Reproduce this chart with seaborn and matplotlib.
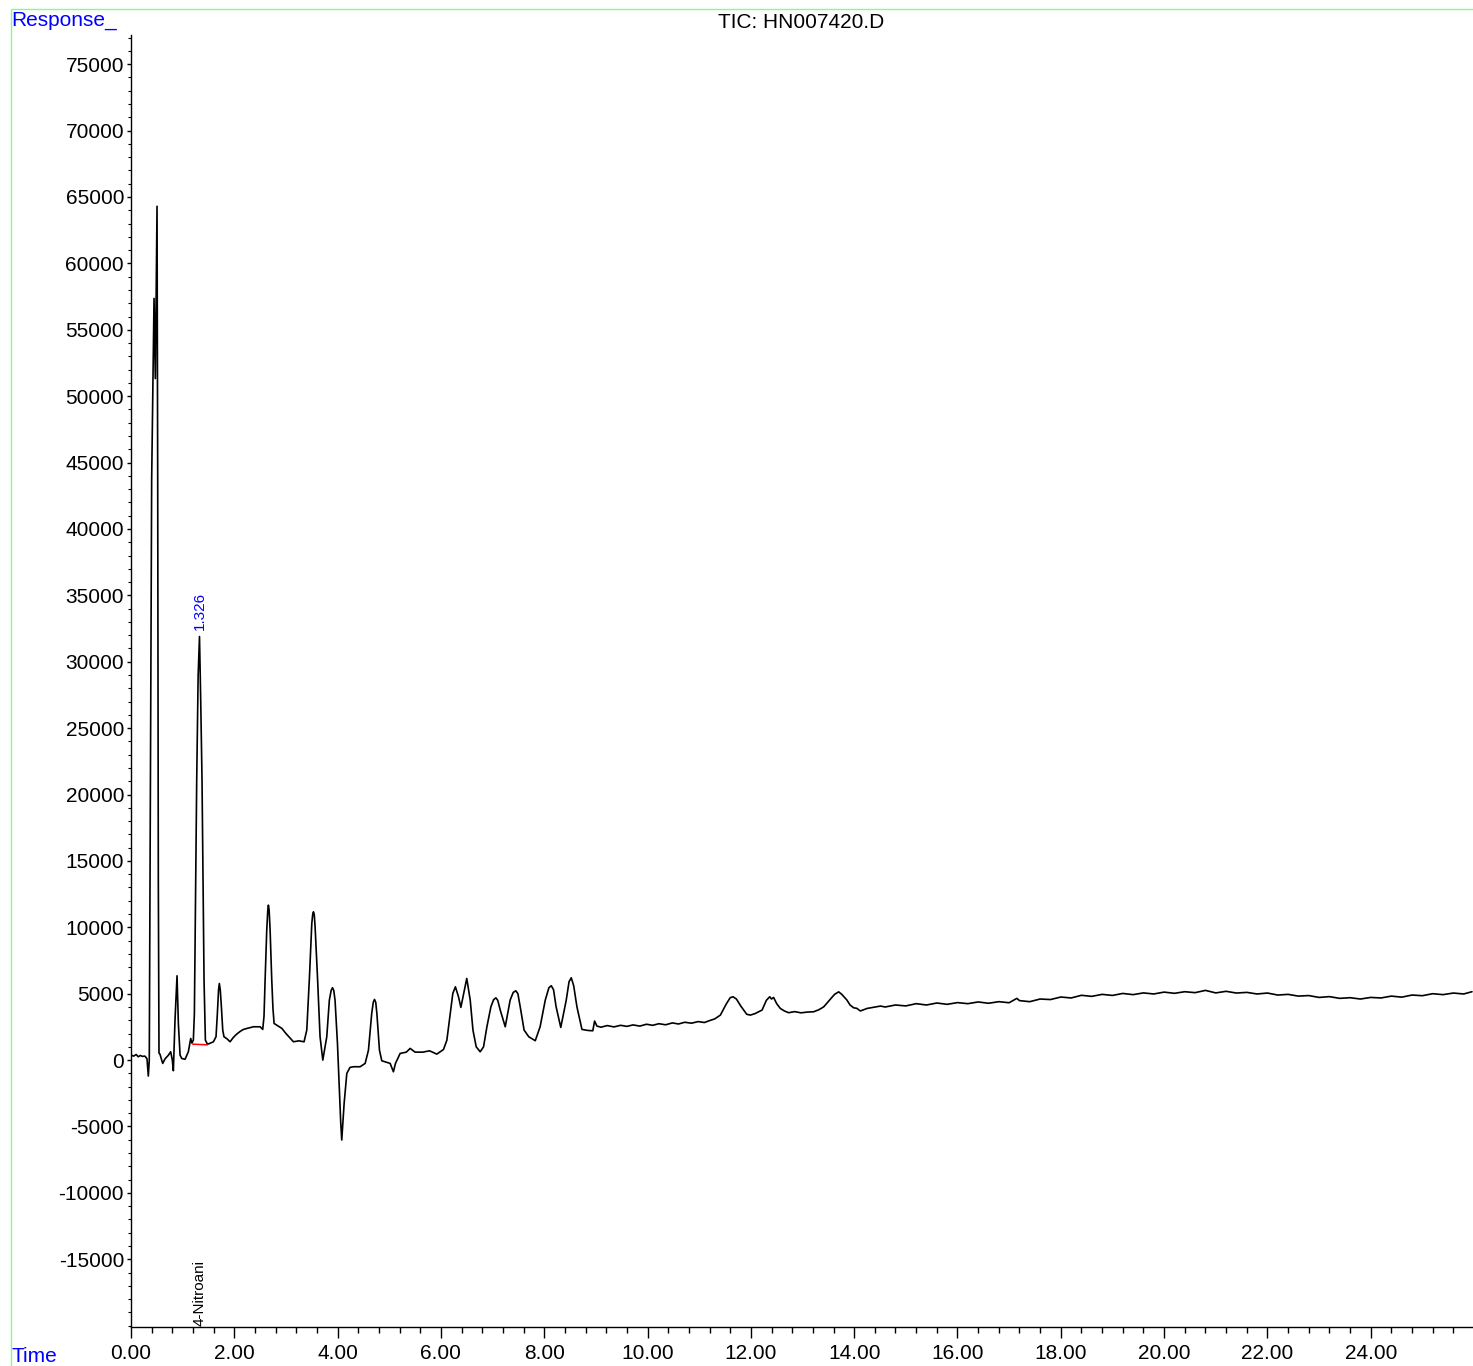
import numpy as np
import pandas as pd
import matplotlib
matplotlib.use("Agg")
import matplotlib.pyplot as plt
from matplotlib.ticker import MultipleLocator, FormatStrFormatter
from matplotlib.patches import Rectangle
import seaborn as sns

# retention time (min) and response
time_early = [0.00, 0.05, 0.10, 0.14, 0.18, 0.22, 0.27, 0.31, 0.335, 0.354, 0.40, 0.446,
              0.471, 0.504, 0.517, 0.529, 0.542, 0.56, 0.614, 0.66, 0.72, 0.768, 0.80,
              0.82, 0.852, 0.891, 0.917, 0.95, 0.982, 1.046, 1.11, 1.156, 1.18, 1.207,
              1.227, 1.246, 1.272, 1.30, 1.326, 1.35, 1.375, 1.395, 1.414, 1.44, 1.48,
              1.52, 1.595, 1.646, 1.672, 1.695, 1.71, 1.728, 1.75, 1.776, 1.80, 1.86,
              1.918, 1.98, 2.047, 2.11, 2.17, 2.24, 2.37, 2.50, 2.55, 2.575, 2.596,
              2.628, 2.648, 2.66, 2.674, 2.693, 2.725, 2.748, 2.77, 2.873, 2.92, 3.00,
              3.145, 3.25, 3.35, 3.403, 3.455, 3.50, 3.517, 3.532, 3.548, 3.564, 3.61,
              3.66, 3.713, 3.79, 3.84, 3.875, 3.90, 3.925, 3.95, 3.997, 4.035, 4.06,
              4.08, 4.10, 4.126, 4.178, 4.24, 4.306, 4.436, 4.533, 4.597, 4.66, 4.69,
              4.714, 4.738, 4.76, 4.81, 4.855, 5.017, 5.08, 5.12, 5.21, 5.33, 5.404,
              5.50, 5.65, 5.78, 5.92, 6.05, 6.115, 6.18, 6.23, 6.28, 6.34, 6.386,
              6.44, 6.50, 6.567, 6.62, 6.683, 6.76, 6.825, 6.89, 6.967, 7.02, 7.064,
              7.10, 7.148, 7.245, 7.34, 7.40, 7.45, 7.49, 7.535, 7.61, 7.70, 7.826,
              7.92, 8.02, 8.09, 8.136, 8.18, 8.23, 8.32, 8.426, 8.48, 8.523, 8.57,
              8.633, 8.73, 8.85, 8.94, 8.975, 9.02]
resp_early = [380, 300, 420, 250, 350, 280, 300, 100, -1200, 0, 43700, 57360,
              51330, 64300, 43700, 13550, 527, 450, -250, 100, 350, 627, 0,
              -800, 3010, 6350, 2760, 376, 125, 60, 627, 1630, 1280, 1500,
              3500, 11000, 21080, 29000, 31900, 27000, 21080, 13550, 6020, 1500, 1200,
              1250, 1380, 1760, 3510, 5300, 5770, 5300, 4010, 2260, 1760, 1600,
              1380, 1700, 1960, 2150, 2300, 2380, 2510, 2510, 2310, 3300, 6020,
              9790, 11300, 11670, 11300, 9790, 6020, 3900, 2760, 2510, 2390, 2000,
              1380, 1450, 1380, 2260, 6270, 10290, 10950, 11170, 10950, 10040, 6270,
              1760, 0, 1760, 4520, 5250, 5450, 5250, 4520, 1250, -2260, -4700,
              -6020, -4800, -3260, -1000, -550, -500, -500, -250, 750, 3510, 4350,
              4570, 4350, 3510, 750, -50, -250, -880, -250, 500, 600, 880,
              600, 600, 700, 450, 800, 1500, 3510, 5020, 5520, 4770, 3970,
              5020, 6150, 4520, 2260, 1000, 627, 1000, 2510, 4010, 4550, 4690,
              4500, 3770, 2510, 4520, 5100, 5220, 5000, 4010, 2260, 1760, 1460,
              2510, 4520, 5450, 5600, 5300, 4010, 2460, 4520, 5900, 6200, 5600,
              4010, 2310, 2230, 2210, 2940, 2560]

time_mid = [9.10, 9.22, 9.35, 9.48, 9.60, 9.72, 9.85, 9.98, 10.10, 10.22, 10.35,
            10.48, 10.60, 10.72, 10.85, 10.98, 11.10, 11.22, 11.30, 11.41, 11.52,
            11.60, 11.655, 11.72, 11.80, 11.86, 11.92, 11.99, 12.08, 12.217, 12.30,
            12.365, 12.40, 12.44, 12.50, 12.57, 12.65, 12.73, 12.85, 12.97, 13.10,
            13.217, 13.32, 13.41, 13.52, 13.62, 13.70, 13.76, 13.86, 13.92, 13.99,
            14.05, 14.12, 14.25, 14.38, 14.51]
resp_mid = [2480, 2600, 2500, 2620, 2540, 2650, 2560, 2700, 2620, 2740, 2660,
            2800, 2720, 2850, 2780, 2900, 2830, 3000, 3100, 3390, 4200,
            4700, 4770, 4600, 4100, 3770, 3450, 3390, 3500, 3770, 4500,
            4770, 4600, 4720, 4250, 3890, 3700, 3570, 3650, 3560, 3620,
            3640, 3800, 4010, 4500, 4950, 5140, 4950, 4520, 4150, 3940,
            3900, 3700, 3890, 3980, 4070]

time_tail = [14.6, 14.8, 15.0, 15.2, 15.4, 15.6, 15.8, 16.0, 16.2, 16.4, 16.6, 16.8,
             17.0, 17.15, 17.2, 17.4, 17.6, 17.8, 18.0, 18.2, 18.4, 18.6, 18.8, 19.0,
             19.2, 19.4, 19.6, 19.8, 20.0, 20.2, 20.4, 20.6, 20.8, 21.0, 21.2, 21.4,
             21.6, 21.8, 22.0, 22.2, 22.4, 22.6, 22.8, 23.0, 23.2, 23.4, 23.6, 23.8,
             24.0, 24.2, 24.4, 24.6, 24.8, 25.0, 25.2, 25.4, 25.6, 25.8, 25.96]
resp_tail = [4000, 4150, 4080, 4250, 4150, 4300, 4200, 4330, 4250, 4380, 4280, 4400,
             4320, 4650, 4480, 4400, 4600, 4560, 4750, 4680, 4880, 4800, 4950, 4870,
             5020, 4930, 5060, 4980, 5120, 5030, 5150, 5080, 5250, 5060, 5180, 5050,
             5100, 4980, 5050, 4900, 4950, 4820, 4860, 4720, 4780, 4650, 4700, 4600,
             4720, 4680, 4820, 4740, 4900, 4850, 5000, 4930, 5050, 4980, 5150]

# integration baseline under the labelled peak
base_time = [1.195, 1.478]
base_resp = [1200, 1150]

peak_rt = 1.326
peak_height = 31900
compound = "4-Nitroani"

df = pd.DataFrame({
    "Time": time_early + time_mid + time_tail,
    "Response": resp_early + resp_mid + resp_tail,
})

sns.set_style("white")
plt.rcParams["font.family"] = ["Liberation Sans", "DejaVu Sans"]
plt.rcParams["text.color"] = "black"
plt.rcParams["xtick.color"] = "black"
plt.rcParams["ytick.color"] = "black"
plt.rcParams["axes.labelcolor"] = "black"

W, H = 1473, 1366
fig = plt.figure(figsize=(W / 100, H / 100), dpi=100)
ax = fig.add_axes([131 / W, 1 - 1327 / H, 1342 / W, (1327 - 35) / H])

sns.lineplot(data=df, x="Time", y="Response", ax=ax, color="black",
             linewidth=1.2, estimator=None, sort=False)
ax.plot(base_time, base_resp, color="red", linewidth=1.1)

ax.set_xlim(0, 25.98)
ax.set_ylim(-20100, 77200)
ax.set_xlabel("")
ax.set_ylabel("")

ax.xaxis.set_major_locator(MultipleLocator(2))
ax.xaxis.set_minor_locator(MultipleLocator(0.4))
ax.xaxis.set_major_formatter(FormatStrFormatter("%.2f"))
ax.set_yticks(np.arange(-15000, 75001, 5000))
ax.yaxis.set_minor_locator(MultipleLocator(1000))
ax.yaxis.set_major_formatter(FormatStrFormatter("%d"))

ax.tick_params(axis="x", which="major", direction="out", length=8, width=1,
               labelsize=15, pad=4, bottom=True)
ax.tick_params(axis="x", which="minor", direction="out", length=4.5, width=1, bottom=True)
ax.tick_params(axis="y", which="major", direction="out", length=3, width=1,
               labelsize=15, pad=2, left=True)
ax.tick_params(axis="y", which="minor", direction="out", length=2, width=0.8, left=True)

for side in ["top", "right"]:
    ax.spines[side].set_visible(False)
for side in ["left", "bottom"]:
    ax.spines[side].set_color("black")
    ax.spines[side].set_linewidth(1.0)

ax.text(peak_rt + 0.01, peak_height + 500, f"{peak_rt:.3f}", rotation=90,
        ha="center", va="bottom", color="blue", fontsize=11)
ax.text(peak_rt + 0.01, -20000, compound, rotation=90, ha="center", va="bottom",
        color="black", fontsize=11)

fig.text(801 / W, 1 - 22 / H, "TIC: HN007420.D", ha="center", va="center", fontsize=15)
fig.text(11 / W, 1 - 21 / H, "Response_", ha="left", va="center", fontsize=15, color="blue")
fig.text(11 / W, 1 - 1356 / H, "Time", ha="left", va="center", fontsize=15, color="blue")

# green frame around the whole plot area
fig.patches.append(Rectangle((10.5 / W, -0.01), 1.02, 1 - 8.5 / H + 0.01,
                             transform=fig.transFigure, fill=False,
                             edgecolor="#80ff80", linewidth=1.0))

fig.savefig("out.png", dpi=100)
